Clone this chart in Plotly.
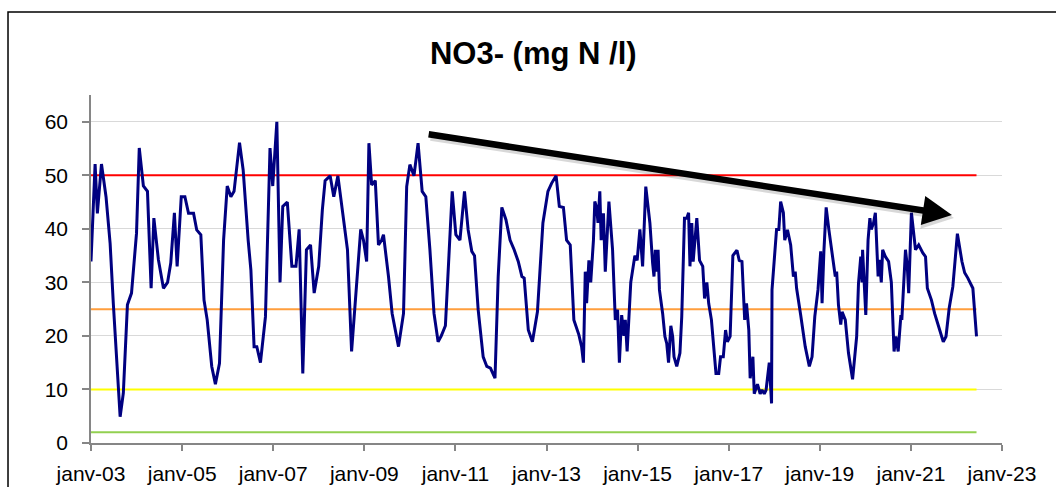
import pandas as pd
import plotly.graph_objects as go

# ---- data (decimal years, NO3- in mg N/l) ----
dates_decimal = [
    2003.00, 2003.09, 2003.14, 2003.23, 2003.33, 2003.42, 2003.49, 2003.56, 2003.64, 2003.71,
    2003.80, 2003.89, 2004.00, 2004.06, 2004.15, 2004.24, 2004.32, 2004.38, 2004.48, 2004.59,
    2004.68, 2004.75, 2004.83, 2004.89, 2004.98, 2005.06, 2005.14, 2005.25, 2005.32, 2005.41,
    2005.48, 2005.55, 2005.65, 2005.73, 2005.82, 2005.91, 2005.99, 2006.07, 2006.14, 2006.26,
    2006.34, 2006.45, 2006.51, 2006.58, 2006.64, 2006.72, 2006.83, 2006.93, 2006.99, 2007.08,
    2007.15, 2007.21, 2007.31, 2007.41, 2007.50, 2007.57, 2007.65, 2007.73, 2007.82, 2007.90,
    2008.00, 2008.08, 2008.14, 2008.25, 2008.33, 2008.42, 2008.53, 2008.63, 2008.72, 2008.80,
    2008.92, 2008.98, 2009.05, 2009.10, 2009.16, 2009.24, 2009.31, 2009.38, 2009.42, 2009.53,
    2009.61, 2009.75, 2009.86, 2009.93, 2010.00, 2010.09, 2010.18, 2010.27, 2010.35, 2010.44,
    2010.53, 2010.62, 2010.69, 2010.78, 2010.85, 2010.93, 2011.01, 2011.10, 2011.20, 2011.28,
    2011.36, 2011.42, 2011.50, 2011.61, 2011.69, 2011.77, 2011.87, 2011.94, 2012.02, 2012.11,
    2012.20, 2012.29, 2012.38, 2012.46, 2012.51, 2012.60, 2012.69, 2012.80, 2012.92, 2013.03,
    2013.11, 2013.21, 2013.28, 2013.37, 2013.44, 2013.52, 2013.60, 2013.71, 2013.77, 2013.81,
    2013.85, 2013.88, 2013.93, 2013.97, 2014.03, 2014.06, 2014.10, 2014.13, 2014.17, 2014.20,
    2014.25, 2014.29, 2014.37, 2014.45, 2014.51, 2014.56, 2014.60, 2014.65, 2014.70, 2014.73,
    2014.77, 2014.85, 2014.94, 2014.99, 2015.05, 2015.11, 2015.18, 2015.27, 2015.33, 2015.36,
    2015.39, 2015.42, 2015.45, 2015.48, 2015.55, 2015.60, 2015.64, 2015.68, 2015.73, 2015.77,
    2015.80, 2015.86, 2015.93, 2015.97, 2016.03, 2016.08, 2016.12, 2016.15, 2016.19, 2016.22,
    2016.30, 2016.36, 2016.43, 2016.47, 2016.52, 2016.56, 2016.62, 2016.72, 2016.78, 2016.82,
    2016.88, 2016.93, 2016.97, 2017.03, 2017.09, 2017.18, 2017.23, 2017.29, 2017.35, 2017.39,
    2017.44, 2017.47, 2017.53, 2017.56, 2017.63, 2017.69, 2017.73, 2017.78, 2017.82, 2017.89,
    2017.94, 2017.95, 2018.05, 2018.10, 2018.14, 2018.20, 2018.23, 2018.29, 2018.36, 2018.42,
    2018.46, 2018.49, 2018.58, 2018.68, 2018.77, 2018.83, 2018.89, 2018.96, 2019.02, 2019.05,
    2019.09, 2019.14, 2019.20, 2019.28, 2019.34, 2019.37, 2019.41, 2019.46, 2019.49, 2019.56,
    2019.63, 2019.72, 2019.81, 2019.85, 2019.90, 2019.93, 2019.94, 2020.01, 2020.06, 2020.10,
    2020.13, 2020.18, 2020.22, 2020.28, 2020.31, 2020.35, 2020.38, 2020.44, 2020.51, 2020.57,
    2020.63, 2020.67, 2020.72, 2020.78, 2020.80, 2020.88, 2020.92, 2020.95, 2021.01, 2021.10,
    2021.17, 2021.26, 2021.32, 2021.36, 2021.45, 2021.52, 2021.64, 2021.71, 2021.77, 2021.84,
    2021.92, 2022.02, 2022.12, 2022.18, 2022.25, 2022.36, 2022.44,
]
no3_values = [
    33.9, 52.1, 42.9, 52.1, 46.0, 37.3, 26.1, 16.1, 4.9, 9.3,
    25.8, 28.0, 39.2, 55.1, 48.0, 47.0, 28.9, 42.0, 34.2, 28.9,
    30.0, 33.6, 43.0, 33.0, 46.0, 46.0, 42.9, 42.9, 39.8, 38.9,
    26.7, 23.0, 14.3, 11.0, 14.9, 37.9, 48.0, 46.0, 47.0, 56.1,
    51.0, 37.9, 32.3, 18.0, 18.0, 15.0, 23.6, 55.1, 48.0, 60.0,
    30.0, 44.2, 45.0, 33.0, 33.0, 39.9, 13.0, 36.1, 37.0, 28.0,
    33.0, 43.6, 49.0, 49.9, 46.0, 49.9, 42.9, 36.1, 17.1, 26.1,
    39.9, 37.9, 33.9, 56.0, 48.2, 49.0, 37.0, 37.9, 38.9, 31.1,
    24.2, 18.0, 24.2, 47.9, 52.0, 49.9, 56.0, 47.0, 46.0, 36.1,
    24.2, 18.9, 20.0, 21.9, 33.0, 47.0, 38.9, 37.9, 47.0, 39.8,
    35.8, 35.0, 24.9, 16.1, 14.3, 14.0, 12.1, 31.1, 44.0, 41.7,
    37.9, 36.1, 33.9, 31.1, 30.8, 21.1, 18.9, 24.5, 41.1, 47.0,
    48.5, 49.9, 44.2, 44.0, 37.9, 37.0, 23.0, 20.2, 18.0, 15.0,
    32.0, 26.1, 34.1, 30.0, 37.9, 45.1, 44.0, 41.1, 47.0, 37.9,
    42.9, 32.0, 45.1, 36.1, 23.0, 24.9, 15.0, 23.9, 20.0, 23.0,
    17.1, 30.0, 35.0, 34.1, 39.9, 33.0, 47.9, 41.1, 33.6, 31.1,
    36.1, 32.0, 36.1, 28.6, 24.2, 19.9, 18.6, 15.0, 21.9, 19.9,
    16.1, 14.3, 16.8, 23.6, 42.0, 42.0, 43.0, 33.0, 41.1, 33.9,
    42.0, 34.1, 33.0, 27.0, 30.0, 26.1, 23.0, 13.0, 13.0, 16.1,
    16.1, 21.1, 18.9, 19.9, 35.0, 36.0, 34.1, 33.9, 23.0, 26.1,
    21.1, 12.1, 16.1, 9.2, 11.0, 9.2, 9.9, 9.2, 9.9, 15.0,
    7.4, 28.6, 39.9, 39.9, 45.1, 43.0, 37.9, 39.8, 37.0, 31.1,
    32.0, 28.9, 23.9, 18.0, 14.3, 16.1, 23.6, 28.6, 35.8, 26.1,
    35.8, 44.0, 39.8, 35.1, 31.1, 32.0, 25.8, 22.1, 24.5, 23.0,
    16.8, 11.9, 19.9, 29.8, 34.8, 30.0, 36.1, 23.9, 37.9, 42.0,
    39.9, 41.1, 43.0, 31.1, 34.2, 30.0, 36.1, 34.8, 33.9, 30.0,
    17.1, 19.9, 17.1, 23.9, 23.0, 36.1, 33.0, 28.0, 43.0, 36.1,
    37.0, 35.5, 34.8, 28.9, 26.7, 24.2, 21.1, 18.9, 19.9, 25.2,
    29.2, 39.1, 33.9, 31.8, 30.8, 28.9, 19.9,
]

threshold_values = [50, 25, 10, 2]
threshold_colors = ["#FF0000", "#FF9E3D", "#FFFF00", "#92D050"]

tick_dates = ["2003-01-01", "2005-01-01", "2007-01-01", "2009-01-01", "2011-01-01",
              "2013-01-01", "2015-01-01", "2017-01-01", "2019-01-01", "2021-01-01",
              "2023-01-01"]
tick_labels = ["janv-03", "janv-05", "janv-07", "janv-09", "janv-11", "janv-13",
               "janv-15", "janv-17", "janv-19", "janv-21", "janv-23"]

# trend arrow (start / end in data units)
trend_start = (2010.38, 57.7)
trend_end = (2021.90, 42.6)


def to_date(y):
    yr = int(y)
    start = pd.Timestamp(year=yr, month=1, day=1)
    end = pd.Timestamp(year=yr + 1, month=1, day=1)
    return start + (end - start) * (y - yr)


dates = [to_date(d) for d in dates_decimal]

FONT = "Liberation Sans, Arial, sans-serif"

fig = go.Figure()

for val, col in zip(threshold_values, threshold_colors):
    fig.add_trace(go.Scatter(
        x=[dates[0], dates[-1]], y=[val, val], mode="lines",
        line=dict(color=col, width=2), hoverinfo="skip", showlegend=False))

fig.add_trace(go.Scatter(
    x=dates, y=no3_values, mode="lines",
    line=dict(color="#000080", width=3), showlegend=False, name="NO3-"))

tx = to_date(trend_end[0])
sx = to_date(trend_start[0])
# soft shadow
fig.add_annotation(
    x=tx, y=trend_end[1], ax=sx, ay=trend_start[1], xref="x", yref="y",
    axref="x", ayref="y", text="", showarrow=True, arrowhead=2, arrowsize=0.9,
    arrowwidth=7, arrowcolor="rgba(0,0,0,0.15)", xshift=2, yshift=-3)
fig.add_annotation(
    x=tx, y=trend_end[1], ax=sx, ay=trend_start[1], xref="x", yref="y",
    axref="x", ayref="y", text="", showarrow=True, arrowhead=2, arrowsize=0.9,
    arrowwidth=6.5, arrowcolor="#000000")

# chart border (top & left visible)
fig.add_shape(type="rect", xref="paper", yref="paper",
              x0=-0.0911, x1=1.2, y0=-0.3, y1=1.2385,
              line=dict(color="#000000", width=1.5), layer="above")

fig.update_layout(
    width=1056, height=487,
    margin=dict(l=91, r=54, t=95, b=44),
    paper_bgcolor="white", plot_bgcolor="white",
    title=dict(text="<b>NO3- (mg N /l)</b>", x=0.505, xanchor="center",
               y=1 - 53 / 487, yref="container", yanchor="middle",
               font=dict(family=FONT, size=31, color="#000000")),
    font=dict(family=FONT, color="#000000"),
    xaxis=dict(
        type="date", range=["2003-01-01", "2023-01-01"],
        tickvals=tick_dates, ticktext=tick_labels,
        showgrid=False, zeroline=False, automargin=False,
        showline=True, linecolor="#868686", linewidth=1.5,
        ticks="outside", ticklen=6, tickcolor="#868686", tickwidth=1.5,
        ticklabelstandoff=5,
        tickfont=dict(family=FONT, size=21, color="#000000"),
    ),
    yaxis=dict(
        range=[0, 65], tickvals=[0, 10, 20, 30, 40, 50, 60],
        showgrid=True, gridcolor="#D9D9D9", gridwidth=1.2,
        zeroline=False, showline=True, linecolor="#868686", linewidth=1.5,
        ticks="outside", ticklen=7, tickcolor="#868686", tickwidth=1.5,
        ticklabelstandoff=10, automargin=False,
        tickfont=dict(family=FONT, size=21, color="#000000"),
    ),
)

fig.write_html("out.html", config={"displayModeBar": False},
               post_script="document.body.style.margin='0';document.body.style.overflow='hidden';")
